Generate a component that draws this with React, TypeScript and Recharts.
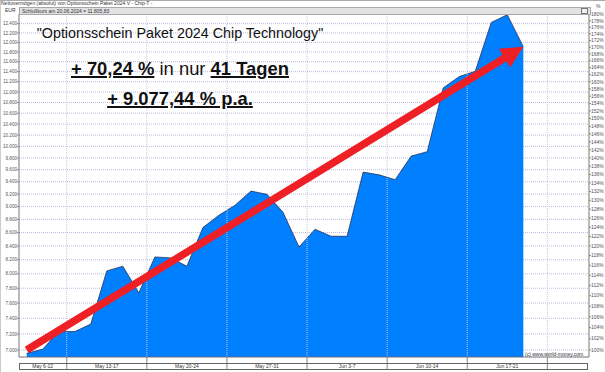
import { ComposedChart, Area, XAxis, YAxis, CartesianGrid, ReferenceLine } from 'recharts';

// trading days shown in the chart
const days = [
  '08.05.', '09.05.', '10.05.',
  '13.05.', '14.05.', '15.05.', '16.05.', '17.05.',
  '20.05.', '21.05.', '22.05.', '23.05.', '24.05.',
  '27.05.', '28.05.', '29.05.', '30.05.', '31.05.',
  '03.06.', '04.06.', '05.06.', '06.06.', '07.06.',
  '10.06.', '11.06.', '12.06.', '13.06.', '14.06.',
  '17.06.', '18.06.', '19.06.', '20.06.',
];

// Nettovermögen in EUR
const nav = [
  6960, 7010, 7230,
  7230, 7325, 8041, 8107, 7738,
  8240, 8226, 8107, 8675, 8864,
  9020, 9248, 9195, 8910, 8385,
  8649, 8544, 8544, 9560, 9514,
  9434, 9832, 9908, 11080, 11301,
  11406, 12427, 12595, 11910,
];

const weekLabels = ['May 6-12', 'May 13-17', 'May 20-24', 'May 27-31', 'Jun 3-7', 'Jun 10-14', 'Jun 17-21'];
const weekCenters = [1, 5, 10, 15, 20, 25, 30];
const weekBreaks = [2.5, 7.5, 12.5, 17.5, 22.5, 27.5, 32.5];

const eurTicks = [
  7000, 7200, 7400, 7600, 7800, 8000, 8200, 8400, 8600, 8800, 9000, 9200, 9400, 9600,
  9800, 10000, 10200, 10400, 10600, 10800, 11000, 11200, 11400, 11600, 11800, 12000, 12200, 12400,
];
const pctTicks = [
  100, 102, 104, 106, 108, 110, 112, 114, 116, 118, 120, 122, 124, 126, 128, 130, 132, 134, 136, 138, 140,
  142, 144, 146, 148, 150, 152, 154, 156, 158, 160, 162, 164, 166, 168, 170, 172, 174, 176, 178, 180,
];

const base = 7000; // = 100%
const yMin = 6915;
const yMax = 12611;

const arrowFrom = { x: 0, y: 7000 };
const arrowTo = { x: 31, y: 11910 };

const data = nav.map((v, i) => ({ i, day: days[i], v }));

const fmtEur = (v: number) => String(v).replace(/\B(?=(\d{3})+(?!\d))/g, '.');

const RED = '#ee1f25';

function Arrow(props: any) {
  const { x1, y1, x2, y2 } = props;
  const dx = x2 - x1;
  const dy = y2 - y1;
  const len = Math.hypot(dx, dy);
  const ux = dx / len;
  const uy = dy / len;
  const nx = -uy;
  const ny = ux;
  const L = 22;
  const W = 11;
  const bx = x2 - ux * L;
  const by = y2 - uy * L;
  return (
    <g>
      <line x1={x1} y1={y1} x2={bx + ux * 3} y2={by + uy * 3} stroke={RED} strokeWidth={7.5} />
      <polygon
        points={`${x2},${y2} ${bx + nx * W},${by + ny * W} ${bx - nx * W},${by - ny * W}`}
        fill={RED}
      />
    </g>
  );
}

function WeekTick(props: any) {
  const { x, y, payload } = props;
  if (weekBreaks.includes(payload.value)) {
    return <line x1={x} y1={y} x2={x} y2={y + 13} stroke="#666" strokeWidth={0.8} />;
  }
  const idx = weekCenters.indexOf(payload.value);
  return (
    <text x={x} y={y + 10} textAnchor="middle" dominantBaseline="middle" fontSize={5} fill="#333">
      {weekLabels[idx]}
    </text>
  );
}

const font = '"Liberation Sans", Arial, sans-serif';

export default function App() {
  return (
    <div style={{ position: 'relative', width: 605, height: 372, background: '#fff', fontFamily: font }}>
      <style>{'body{margin:0}'}</style>
      <ComposedChart width={605} height={372} data={data} margin={{ top: 14, right: 0, bottom: 0, left: 0 }}>
        <CartesianGrid yAxisId="eur" vertical={false} stroke="#bcbcdc" strokeDasharray="1 1" />
        <XAxis
          dataKey="i"
          type="number"
          domain={[-0.48, 35.1]}
          ticks={[...weekBreaks, ...weekCenters]}
          interval={0}
          allowDataOverflow
          height={15}
          tickSize={0}
          tickMargin={0}
          tickLine={false}
          tick={<WeekTick />}
          axisLine={{ stroke: '#666', strokeWidth: 0.8 }}
        />
        <YAxis
          yAxisId="eur"
          scale="log"
          domain={[yMin, yMax]}
          allowDataOverflow
          ticks={eurTicks}
          interval={0}
          width={19}
          tickSize={2}
          tickMargin={0}
          tickFormatter={fmtEur}
          tick={{ fontSize: 4.6, fill: '#555' }}
          tickLine={{ stroke: '#888' }}
          axisLine={{ stroke: '#777' }}
        />
        <YAxis
          yAxisId="pct"
          orientation="right"
          scale="log"
          domain={[(yMin / base) * 100, (yMax / base) * 100]}
          allowDataOverflow
          ticks={pctTicks}
          interval={0}
          width={16}
          tickSize={2}
          tickMargin={0}
          tickFormatter={(v: number) => `${v}%`}
          tick={{ fontSize: 5, fill: '#555', textAnchor: 'start' }}
          tickLine={{ stroke: '#888' }}
          axisLine={{ stroke: '#777' }}
        />
        {weekBreaks.map((b) => (
          <ReferenceLine key={b} x={b} yAxisId="eur" stroke="#c6c6ea" strokeDasharray="1 1" />
        ))}
        <Area
          yAxisId="eur"
          type="linear"
          dataKey="v"
          baseValue={yMin}
          fill="#0080ff"
          fillOpacity={1}
          stroke="#202040"
          strokeWidth={0.7}
          isAnimationActive={false}
        />
        <ReferenceLine
          yAxisId="eur"
          segment={[arrowFrom, arrowTo]}
          shape={Arrow}
          ifOverflow="visible"
        />
      </ComposedChart>

      {/* frame and header */}
      <div style={{ position: 'absolute', left: 0, top: 0, width: 604, height: 371, borderTop: '1px solid #aaa', borderLeft: '1px solid #ccc', borderBottom: '1px solid #ccc', pointerEvents: 'none' }} />
      <div style={{ position: 'absolute', left: 1, top: 0, fontSize: 5, lineHeight: '7px', color: '#333', whiteSpace: 'nowrap' }}>
        Nettovermögen (absolut) von Optionsschein Paket 2024 V - Chip-T -
      </div>
      <div style={{ position: 'absolute', left: 5, top: 7, fontSize: 5, lineHeight: '7px', color: '#333' }}>EUR</div>
      <div style={{ position: 'absolute', left: 19, top: 7, width: 568, height: 6, background: '#e2e2e2', border: '1px solid #a8a8a8', fontSize: 5, lineHeight: '6px', color: '#333', whiteSpace: 'nowrap', paddingLeft: 2, boxSizing: 'content-box' }}>
        Schlußkurs am 20.06.2024 = 11.805,83
      </div>
      <div style={{ position: 'absolute', left: 581, top: 8, width: 5, height: 4, border: '0.6px solid #777', background: '#eee' }} />
      <div style={{ position: 'absolute', left: 596, top: 4, fontSize: 5, lineHeight: '5px', color: '#555' }}>%</div>

      {/* x-axis band rows */}
      <div style={{ position: 'absolute', left: 19, top: 363, width: 569, height: 7, borderTop: '0.8px solid #666', borderBottom: '0.8px solid #666', borderLeft: '0.8px solid #666', borderRight: '0.8px solid #666', boxSizing: 'border-box', pointerEvents: 'none' }} />

      {/* watermark */}
      <div style={{ position: 'absolute', left: 525, top: 351, fontSize: 5, lineHeight: '6px', color: '#333', whiteSpace: 'nowrap' }}>
        (c) www.world-money.com
      </div>

      {/* annotation texts */}
      <div style={{ position: 'absolute', left: 0, top: 25.6, width: 360, textAlign: 'center', fontSize: 14.3, lineHeight: 1, color: '#111', whiteSpace: 'nowrap' }}>
        "Optionsschein Paket 2024 Chip Technology"
      </div>
      <div style={{ position: 'absolute', left: 0, top: 60.4, width: 360, textAlign: 'center', fontSize: 18.4, lineHeight: 1, color: '#111', whiteSpace: 'nowrap' }}>
        <span style={{ fontWeight: 'bold', textDecoration: 'underline', textDecorationThickness: 2 }}>+ 70,24 %</span>
        <span> in nur </span>
        <span style={{ fontWeight: 'bold', textDecoration: 'underline', textDecorationThickness: 2 }}>41 Tagen</span>
      </div>
      <div style={{ position: 'absolute', left: 0, top: 90.4, width: 360, textAlign: 'center', fontSize: 18.4, lineHeight: 1, color: '#111', whiteSpace: 'nowrap' }}>
        <span style={{ fontWeight: 'bold', textDecoration: 'underline', textDecorationThickness: 2 }}>+ 9.077,44 % p.a.</span>
      </div>
    </div>
  );
}
